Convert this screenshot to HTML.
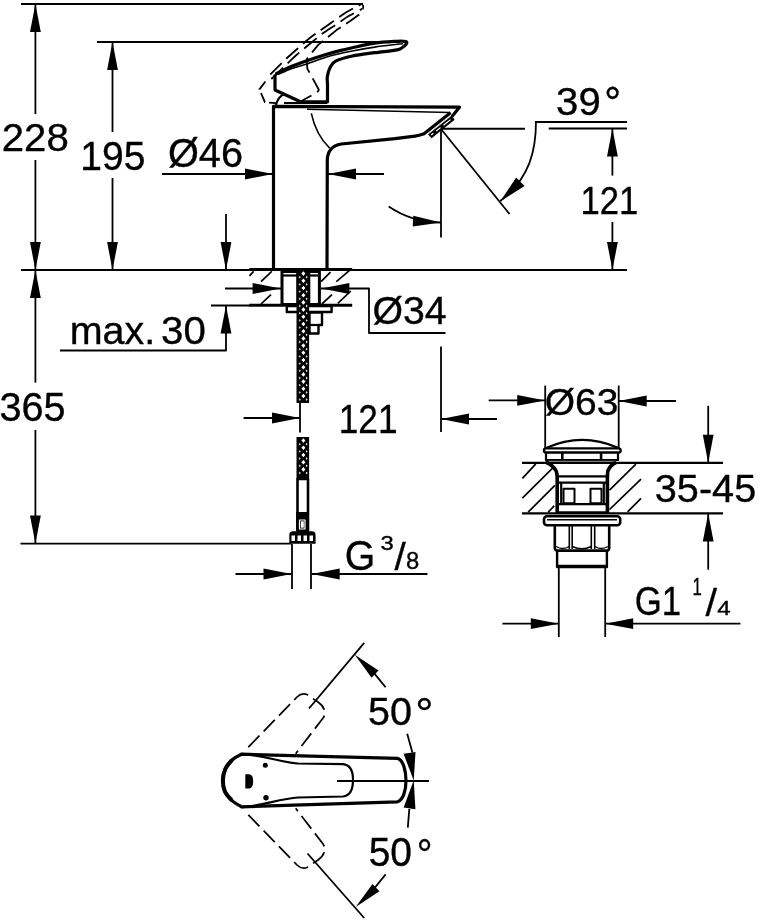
<!DOCTYPE html>
<html><head><meta charset="utf-8"><style>
html,body{margin:0;padding:0;background:#fff;width:760px;height:920px;overflow:hidden}
svg{display:block}
text{font-family:"Liberation Sans",sans-serif;fill:#000;stroke:#000;stroke-width:0.35px}
svg{filter:grayscale(1)}
</style></head><body>
<svg width="760" height="920" viewBox="0 0 760 920" stroke="#000" fill="none" stroke-linecap="butt" stroke-linejoin="round">
<line x1="21" y1="4" x2="363" y2="4" stroke-width="1.8" />
<line x1="97" y1="42" x2="400" y2="42" stroke-width="1.8" />
<line x1="21" y1="270" x2="627" y2="270" stroke-width="1.8" />
<line x1="35.4" y1="4" x2="35.4" y2="114" stroke-width="1.8" />
<line x1="35.4" y1="160" x2="35.4" y2="270" stroke-width="1.8" />
<polygon points="35.40,4.00 40.80,32.00 30.00,32.00" fill="#000" stroke="none"/>
<polygon points="35.40,270.00 30.00,242.00 40.80,242.00" fill="#000" stroke="none"/>
<line x1="112.5" y1="42" x2="112.5" y2="132" stroke-width="1.8" />
<line x1="112.5" y1="178" x2="112.5" y2="270" stroke-width="1.8" />
<polygon points="112.50,42.00 117.90,70.00 107.10,70.00" fill="#000" stroke="none"/>
<polygon points="112.50,270.00 107.10,242.00 117.90,242.00" fill="#000" stroke="none"/>
<line x1="162" y1="174" x2="273" y2="174" stroke-width="1.8" />
<polygon points="273.00,174.00 245.00,179.40 245.00,168.60" fill="#000" stroke="none"/>
<line x1="328" y1="174" x2="384" y2="174" stroke-width="1.8" />
<polygon points="328.00,174.00 356.00,168.60 356.00,179.40" fill="#000" stroke="none"/>
<line x1="226" y1="214" x2="226" y2="270" stroke-width="1.8" />
<polygon points="226.00,270.00 220.60,242.00 231.40,242.00" fill="#000" stroke="none"/>
<polyline points="60,350.5 226,350.5 226,305.5" stroke-width="1.8" fill="none" />
<polygon points="226.00,305.50 231.40,333.50 220.60,333.50" fill="#000" stroke="none"/>
<line x1="211" y1="305.5" x2="250" y2="305.5" stroke-width="1.8" />
<line x1="225" y1="288.5" x2="281" y2="288.5" stroke-width="1.8" />
<polygon points="280.60,288.50 252.60,293.90 252.60,283.10" fill="#000" stroke="none"/>
<polyline points="321,288.5 369,288.5 369,333 445.5,333" stroke-width="1.8" fill="none" />
<polygon points="321.40,288.50 349.40,283.10 349.40,293.90" fill="#000" stroke="none"/>
<line x1="35.4" y1="270" x2="35.4" y2="382.6" stroke-width="1.8" />
<line x1="35.4" y1="430" x2="35.4" y2="543.6" stroke-width="1.8" />
<polygon points="35.40,270.00 40.80,298.00 30.00,298.00" fill="#000" stroke="none"/>
<polygon points="35.40,543.60 30.00,515.60 40.80,515.60" fill="#000" stroke="none"/>
<line x1="20.5" y1="543.6" x2="291" y2="543.6" stroke-width="1.8" />
<line x1="243.6" y1="418" x2="300" y2="418" stroke-width="1.8" />
<polygon points="300.00,418.00 272.00,423.40 272.00,412.60" fill="#000" stroke="none"/>
<line x1="300" y1="403" x2="300" y2="432.6" stroke-width="1.8" />
<line x1="441" y1="346.5" x2="441" y2="432" stroke-width="1.8" />
<line x1="441" y1="419" x2="497" y2="419" stroke-width="1.8" />
<polygon points="441.00,419.00 469.00,413.60 469.00,424.40" fill="#000" stroke="none"/>
<line x1="441" y1="128.75" x2="525" y2="128.75" stroke-width="1.8" />
<line x1="548.7" y1="128.5" x2="627" y2="128.5" stroke-width="1.8" />
<line x1="535" y1="122" x2="627" y2="122" stroke-width="1.8" />
<line x1="441" y1="129" x2="441" y2="237.5" stroke-width="1.8" />
<line x1="441" y1="129" x2="509.5" y2="214" stroke-width="1.8" />
<line x1="612.4" y1="128.5" x2="612.4" y2="175.6" stroke-width="1.8" />
<line x1="612.4" y1="222" x2="612.4" y2="270" stroke-width="1.8" />
<polygon points="612.40,128.50 617.80,156.50 607.00,156.50" fill="#000" stroke="none"/>
<polygon points="612.40,270.00 607.00,242.00 617.80,242.00" fill="#000" stroke="none"/>
<path d="M536,121.5 C536,150 530,178 500.2,201" stroke-width="1.8" fill="none" />
<polygon points="500.26,201.32 516.16,177.50 524.52,186.10" fill="#000" stroke="none"/>
<path d="M388.67,206.49 A93.5,93.5 0 0 0 441.00,222.50" stroke-width="1.8" fill="none" />
<polygon points="441.00,222.50 412.77,226.50 413.30,215.71" fill="#000" stroke="none"/>
<path d="M273.5,270 L273.5,106.3 L459.5,107.2 L452,116.5" stroke-width="3.2" fill="none" />
<path d="M307,109.2 L450.5,112.5" stroke-width="1.6" fill="none" />
<path d="M450.5,112.8 L424,133.8 Q419,135.5 415,136.1 L395,138.7 L341.3,144 C333,145.5 327.5,150 327.3,160 L327,270" stroke-width="3.2" fill="none" />
<path d="M311.3,113.4 Q316,135 329.7,148.2" stroke-width="1.6" fill="none" />
<polygon points="451.5,115.2 454.6,119.8 431.6,138.2 427.6,134" fill="#000" stroke="none"/>
<line x1="450.6" y1="116.2" x2="427.8" y2="134.2" stroke-width="0.9" stroke="#fff"/>
<line x1="450.6" y1="119.6" x2="443.5" y2="125.2" stroke-width="1.2" stroke="#fff"/>
<line x1="440.5" y1="127.6" x2="436.2" y2="131" stroke-width="1.2" stroke="#fff"/>
<line x1="433.4" y1="133.2" x2="431.2" y2="135" stroke-width="1.2" stroke="#fff"/>
<path d="M275.50,74.10 C277.65,73.02 283.18,69.83 288.40,67.60 C293.62,65.37 300.67,62.85 306.80,60.70 C312.93,58.55 319.67,56.38 325.20,54.70 C330.73,53.02 335.47,51.77 340.00,50.60 C344.53,49.43 346.62,48.93 352.40,47.70 C358.18,46.47 367.25,44.27 374.70,43.20 C382.15,42.13 392.22,41.62 397.10,41.30 C401.98,40.98 402.85,41.30 404.00,41.30 Q408,41.3 406.5,43.5 Q405.5,45.5 403.8,46.5" stroke-width="3.2" fill="none"/>
<path d="M403.80,46.50 C402.68,47.07 401.95,48.87 397.10,49.90 C392.25,50.93 382.15,51.68 374.70,52.70 C367.25,53.72 358.92,54.60 352.40,56.00 C345.88,57.40 339.33,59.13 335.60,61.10 C331.87,63.07 331.38,65.18 330.00,67.80 C328.62,70.42 327.72,74.10 327.30,76.80 C326.88,79.50 327.47,82.80 327.50,84.00 L327.5,101.8 L300.5,101.8 L275,90 L275,74.5" stroke-width="3.2" fill="none"/>
<path d="M278.00,74.50 C280.33,73.50 287.20,70.25 292.00,68.50 C296.80,66.75 300.47,66.08 306.80,64.00 C313.13,61.92 322.40,58.17 330.00,56.00 C337.60,53.83 344.95,52.48 352.40,51.00 C359.85,49.52 367.25,48.22 374.70,47.10 C382.15,45.98 392.38,44.87 397.10,44.30 C401.82,43.73 402.02,43.80 403.00,43.70" stroke-width="1.6" fill="none" />
<path d="M276,105 Q278,97 284,94" stroke-width="2" fill="none" />
<line x1="284" y1="103" x2="327" y2="103" stroke-width="2" />
<path d="M270.30,74.60 C272.43,72.45 278.82,65.80 283.10,61.70 C287.38,57.60 291.55,53.95 296.00,50.00 C300.45,46.05 305.03,41.73 309.80,38.00 C314.57,34.27 318.52,31.88 324.60,27.60 C330.68,23.32 339.90,16.32 346.30,12.30 C352.70,8.28 360.22,4.97 363.00,3.50" stroke-width="1.8" fill="none" stroke-dasharray="16,6.5"/>
<path d="M271.30,79.00 C273.68,76.70 281.32,69.28 285.60,65.20 C289.88,61.12 292.88,58.12 297.00,54.50 C301.12,50.88 305.80,47.17 310.30,43.50 C314.80,39.83 319.48,35.80 324.00,32.50 C328.52,29.20 333.35,26.40 337.40,23.70 C341.45,21.00 344.18,18.77 348.30,16.30 C352.42,13.83 359.80,10.13 362.10,8.90" stroke-width="1.8" fill="none" stroke-dasharray="16,6.5"/>
<path d="M297.4,103.2 L312.8,94.8 Q320,91 318.5,89 L307.3,68.6 L306.8,59 L318.2,44.9 L336.5,30.1 L349.8,21.2 L360.2,13.8 Q364,10 363,5" stroke-width="1.8" fill="none" stroke-dasharray="16,6.5"/>
<path d="M265.4,81.5 L259.4,89.4 L264.9,102.2 L276,103.2" stroke-width="1.8" fill="none" stroke-dasharray="10,4"/>
<line x1="249.3" y1="269.6" x2="352.2" y2="269.6" stroke-width="3" />
<line x1="249.3" y1="305.3" x2="352.2" y2="305.3" stroke-width="3" />
<line x1="249.5" y1="275.8" x2="253.6" y2="271.4" stroke-width="1.7" />
<line x1="261" y1="281.6" x2="271.8" y2="271.4" stroke-width="1.7" />
<line x1="261" y1="304" x2="271" y2="294.6" stroke-width="1.7" />
<line x1="321" y1="281.6" x2="330.5" y2="272.1" stroke-width="1.7" />
<line x1="336.3" y1="281.6" x2="349.3" y2="270.7" stroke-width="1.7" />
<line x1="321.8" y1="304" x2="332" y2="294.6" stroke-width="1.7" />
<line x1="337.8" y1="303.3" x2="350.8" y2="291" stroke-width="1.7" />
<rect x="282" y="271.5" width="15.9" height="33" stroke-width="3" fill="#fff"/>
<rect x="308.8" y="271.5" width="10.6" height="33" stroke-width="3" fill="#fff"/>
<line x1="282" y1="275.5" x2="297.9" y2="275.5" stroke-width="2.2" />
<line x1="308.8" y1="275.5" x2="319.4" y2="275.5" stroke-width="2.2" />
<rect x="286.8" y="306" width="44.8" height="6" stroke-width="2.4" fill="#fff"/>
<polygon points="309.5,312.5 322,312.5 322,325 318.5,325 318.5,333.5 309.5,333.5" stroke-width="2.4" fill="#fff" />
<line x1="309.5" y1="325" x2="318.5" y2="325" stroke-width="2.2" />
<rect x="296.5" y="270" width="12.6" height="133" fill="#000" stroke="none"/>
<path d="M303.4,271.3 L305.4,273.6 L303.4,275.9 L301.4,273.6 Z" fill="#fff" stroke="none"/>
<path d="M299.6,275.8 L300.9,277.2 L299.6,278.6 L298.6,277.2 Z" fill="#bbb" stroke="none"/>
<path d="M306.6,275.8 L307.6,277.2 L306.6,278.6 L305.6,277.2 Z" fill="#ddd" stroke="none"/>
<path d="M303.4,278.5 L305.4,280.8 L303.4,283.1 L301.4,280.8 Z" fill="#fff" stroke="none"/>
<path d="M299.6,283.0 L300.9,284.4 L299.6,285.8 L298.6,284.4 Z" fill="#bbb" stroke="none"/>
<path d="M306.6,283.0 L307.6,284.4 L306.6,285.8 L305.6,284.4 Z" fill="#ddd" stroke="none"/>
<path d="M303.4,285.7 L305.4,288.0 L303.4,290.3 L301.4,288.0 Z" fill="#fff" stroke="none"/>
<path d="M299.6,290.2 L300.9,291.6 L299.6,293.0 L298.6,291.6 Z" fill="#bbb" stroke="none"/>
<path d="M306.6,290.2 L307.6,291.6 L306.6,293.0 L305.6,291.6 Z" fill="#ddd" stroke="none"/>
<path d="M303.4,292.9 L305.4,295.2 L303.4,297.5 L301.4,295.2 Z" fill="#fff" stroke="none"/>
<path d="M299.6,297.4 L300.9,298.8 L299.6,300.2 L298.6,298.8 Z" fill="#bbb" stroke="none"/>
<path d="M306.6,297.4 L307.6,298.8 L306.6,300.2 L305.6,298.8 Z" fill="#ddd" stroke="none"/>
<path d="M303.4,300.1 L305.4,302.4 L303.4,304.7 L301.4,302.4 Z" fill="#fff" stroke="none"/>
<path d="M299.6,304.6 L300.9,306.0 L299.6,307.4 L298.6,306.0 Z" fill="#bbb" stroke="none"/>
<path d="M306.6,304.6 L307.6,306.0 L306.6,307.4 L305.6,306.0 Z" fill="#ddd" stroke="none"/>
<path d="M303.4,307.3 L305.4,309.6 L303.4,311.9 L301.4,309.6 Z" fill="#fff" stroke="none"/>
<path d="M299.6,311.8 L300.9,313.2 L299.6,314.6 L298.6,313.2 Z" fill="#bbb" stroke="none"/>
<path d="M306.6,311.8 L307.6,313.2 L306.6,314.6 L305.6,313.2 Z" fill="#ddd" stroke="none"/>
<path d="M303.4,314.5 L305.4,316.8 L303.4,319.1 L301.4,316.8 Z" fill="#fff" stroke="none"/>
<path d="M299.6,319.0 L300.9,320.4 L299.6,321.8 L298.6,320.4 Z" fill="#bbb" stroke="none"/>
<path d="M306.6,319.0 L307.6,320.4 L306.6,321.8 L305.6,320.4 Z" fill="#ddd" stroke="none"/>
<path d="M303.4,321.7 L305.4,324.0 L303.4,326.3 L301.4,324.0 Z" fill="#fff" stroke="none"/>
<path d="M299.6,326.2 L300.9,327.6 L299.6,329.0 L298.6,327.6 Z" fill="#bbb" stroke="none"/>
<path d="M306.6,326.2 L307.6,327.6 L306.6,329.0 L305.6,327.6 Z" fill="#ddd" stroke="none"/>
<path d="M303.4,328.9 L305.4,331.2 L303.4,333.5 L301.4,331.2 Z" fill="#fff" stroke="none"/>
<path d="M299.6,333.4 L300.9,334.8 L299.6,336.2 L298.6,334.8 Z" fill="#bbb" stroke="none"/>
<path d="M306.6,333.4 L307.6,334.8 L306.6,336.2 L305.6,334.8 Z" fill="#ddd" stroke="none"/>
<path d="M303.4,336.1 L305.4,338.4 L303.4,340.7 L301.4,338.4 Z" fill="#fff" stroke="none"/>
<path d="M299.6,340.6 L300.9,342.0 L299.6,343.4 L298.6,342.0 Z" fill="#bbb" stroke="none"/>
<path d="M306.6,340.6 L307.6,342.0 L306.6,343.4 L305.6,342.0 Z" fill="#ddd" stroke="none"/>
<path d="M303.4,343.3 L305.4,345.6 L303.4,347.9 L301.4,345.6 Z" fill="#fff" stroke="none"/>
<path d="M299.6,347.8 L300.9,349.2 L299.6,350.6 L298.6,349.2 Z" fill="#bbb" stroke="none"/>
<path d="M306.6,347.8 L307.6,349.2 L306.6,350.6 L305.6,349.2 Z" fill="#ddd" stroke="none"/>
<path d="M303.4,350.5 L305.4,352.8 L303.4,355.1 L301.4,352.8 Z" fill="#fff" stroke="none"/>
<path d="M299.6,355.0 L300.9,356.4 L299.6,357.8 L298.6,356.4 Z" fill="#bbb" stroke="none"/>
<path d="M306.6,355.0 L307.6,356.4 L306.6,357.8 L305.6,356.4 Z" fill="#ddd" stroke="none"/>
<path d="M303.4,357.7 L305.4,360.0 L303.4,362.3 L301.4,360.0 Z" fill="#fff" stroke="none"/>
<path d="M299.6,362.2 L300.9,363.6 L299.6,365.0 L298.6,363.6 Z" fill="#bbb" stroke="none"/>
<path d="M306.6,362.2 L307.6,363.6 L306.6,365.0 L305.6,363.6 Z" fill="#ddd" stroke="none"/>
<path d="M303.4,364.9 L305.4,367.2 L303.4,369.5 L301.4,367.2 Z" fill="#fff" stroke="none"/>
<path d="M299.6,369.4 L300.9,370.8 L299.6,372.2 L298.6,370.8 Z" fill="#bbb" stroke="none"/>
<path d="M306.6,369.4 L307.6,370.8 L306.6,372.2 L305.6,370.8 Z" fill="#ddd" stroke="none"/>
<path d="M303.4,372.1 L305.4,374.4 L303.4,376.7 L301.4,374.4 Z" fill="#fff" stroke="none"/>
<path d="M299.6,376.6 L300.9,378.0 L299.6,379.4 L298.6,378.0 Z" fill="#bbb" stroke="none"/>
<path d="M306.6,376.6 L307.6,378.0 L306.6,379.4 L305.6,378.0 Z" fill="#ddd" stroke="none"/>
<path d="M303.4,379.3 L305.4,381.6 L303.4,383.9 L301.4,381.6 Z" fill="#fff" stroke="none"/>
<path d="M299.6,383.8 L300.9,385.2 L299.6,386.6 L298.6,385.2 Z" fill="#bbb" stroke="none"/>
<path d="M306.6,383.8 L307.6,385.2 L306.6,386.6 L305.6,385.2 Z" fill="#ddd" stroke="none"/>
<path d="M303.4,386.5 L305.4,388.8 L303.4,391.1 L301.4,388.8 Z" fill="#fff" stroke="none"/>
<path d="M299.6,391.0 L300.9,392.4 L299.6,393.8 L298.6,392.4 Z" fill="#bbb" stroke="none"/>
<path d="M306.6,391.0 L307.6,392.4 L306.6,393.8 L305.6,392.4 Z" fill="#ddd" stroke="none"/>
<path d="M303.4,393.7 L305.4,396.0 L303.4,398.3 L301.4,396.0 Z" fill="#fff" stroke="none"/>
<path d="M299.6,398.2 L300.9,399.6 L299.6,401.0 L298.6,399.6 Z" fill="#bbb" stroke="none"/>
<path d="M306.6,398.2 L307.6,399.6 L306.6,401.0 L305.6,399.6 Z" fill="#ddd" stroke="none"/>
<rect x="296.5" y="437" width="12.6" height="42" fill="#000" stroke="none"/>
<path d="M303.4,438.3 L305.4,440.6 L303.4,442.9 L301.4,440.6 Z" fill="#fff" stroke="none"/>
<path d="M299.6,442.8 L300.9,444.2 L299.6,445.6 L298.6,444.2 Z" fill="#bbb" stroke="none"/>
<path d="M306.6,442.8 L307.6,444.2 L306.6,445.6 L305.6,444.2 Z" fill="#ddd" stroke="none"/>
<path d="M303.4,445.5 L305.4,447.8 L303.4,450.1 L301.4,447.8 Z" fill="#fff" stroke="none"/>
<path d="M299.6,450.0 L300.9,451.4 L299.6,452.8 L298.6,451.4 Z" fill="#bbb" stroke="none"/>
<path d="M306.6,450.0 L307.6,451.4 L306.6,452.8 L305.6,451.4 Z" fill="#ddd" stroke="none"/>
<path d="M303.4,452.7 L305.4,455.0 L303.4,457.3 L301.4,455.0 Z" fill="#fff" stroke="none"/>
<path d="M299.6,457.2 L300.9,458.6 L299.6,460.0 L298.6,458.6 Z" fill="#bbb" stroke="none"/>
<path d="M306.6,457.2 L307.6,458.6 L306.6,460.0 L305.6,458.6 Z" fill="#ddd" stroke="none"/>
<path d="M303.4,459.9 L305.4,462.2 L303.4,464.5 L301.4,462.2 Z" fill="#fff" stroke="none"/>
<path d="M299.6,464.4 L300.9,465.8 L299.6,467.2 L298.6,465.8 Z" fill="#bbb" stroke="none"/>
<path d="M306.6,464.4 L307.6,465.8 L306.6,467.2 L305.6,465.8 Z" fill="#ddd" stroke="none"/>
<path d="M303.4,467.1 L305.4,469.4 L303.4,471.7 L301.4,469.4 Z" fill="#fff" stroke="none"/>
<path d="M299.6,471.6 L300.9,473.0 L299.6,474.4 L298.6,473.0 Z" fill="#bbb" stroke="none"/>
<path d="M306.6,471.6 L307.6,473.0 L306.6,474.4 L305.6,473.0 Z" fill="#ddd" stroke="none"/>
<rect x="297.5" y="479" width="10.5" height="52" stroke-width="2.6" fill="#fff"/>
<rect x="296" y="512" width="13" height="19" fill="#000" stroke="none"/>
<rect x="299.5" y="520" width="5.5" height="9" stroke-width="1.2" stroke="#fff" fill="#000"/>
<rect x="300.8" y="521.3" width="3" height="6.4" fill="#fff" stroke="none"/>
<path d="M289.3,543.7 L289.3,535 Q289.3,531.3 293,531.3 L312,531.3 Q315.6,531.3 315.6,535 L315.6,543.7 Z" stroke-width="0" fill="#000" />
<rect x="291.5" y="535.5" width="3.5" height="5.5" fill="#fff" stroke="none"/>
<rect x="297.5" y="535.5" width="3.5" height="5.5" fill="#fff" stroke="none"/>
<rect x="303.5" y="535.5" width="3.5" height="5.5" fill="#fff" stroke="none"/>
<rect x="309.5" y="535.5" width="3.5" height="5.5" fill="#fff" stroke="none"/>
<line x1="292" y1="544" x2="292" y2="589" stroke-width="1.8" />
<line x1="311" y1="544" x2="311" y2="589" stroke-width="1.8" />
<line x1="235.5" y1="574" x2="291.5" y2="574" stroke-width="1.8" />
<line x1="311.7" y1="574" x2="427.5" y2="574" stroke-width="1.8" />
<polygon points="291.50,574.00 263.50,579.40 263.50,568.60" fill="#000" stroke="none"/>
<polygon points="311.70,574.00 339.70,568.60 339.70,579.40" fill="#000" stroke="none"/>
<line x1="545.2" y1="385.6" x2="545.2" y2="448" stroke-width="1.8" />
<line x1="618.7" y1="385.6" x2="618.7" y2="448" stroke-width="1.8" />
<line x1="488.7" y1="400.4" x2="545.2" y2="400.4" stroke-width="1.8" />
<polygon points="545.20,400.40 517.20,405.80 517.20,395.00" fill="#000" stroke="none"/>
<line x1="618.7" y1="401" x2="676" y2="401" stroke-width="1.8" />
<polygon points="618.70,401.00 646.70,395.60 646.70,406.40" fill="#000" stroke="none"/>
<line x1="522" y1="462.8" x2="723" y2="462.8" stroke-width="2.2" />
<line x1="522" y1="513.4" x2="723" y2="513.4" stroke-width="2.2" />
<line x1="708.2" y1="405.8" x2="708.2" y2="462.8" stroke-width="1.8" />
<polygon points="708.20,462.80 702.80,434.80 713.60,434.80" fill="#000" stroke="none"/>
<line x1="708.2" y1="569.7" x2="708.2" y2="513.4" stroke-width="1.8" />
<polygon points="708.20,513.40 713.60,541.40 702.80,541.40" fill="#000" stroke="none"/>
<line x1="522.4" y1="478.3" x2="535.8" y2="463.8" stroke-width="1.7" />
<line x1="522.4" y1="498.1" x2="553.1" y2="467.7" stroke-width="1.7" />
<line x1="528.1" y1="512.2" x2="554.9" y2="485.4" stroke-width="1.7" />
<line x1="548.2" y1="512.2" x2="554.2" y2="505.8" stroke-width="1.7" />
<line x1="609.5" y1="490.1" x2="635.9" y2="464.1" stroke-width="1.7" />
<line x1="609.5" y1="509.5" x2="641" y2="479.1" stroke-width="1.7" />
<line x1="627.6" y1="511.8" x2="641" y2="498.4" stroke-width="1.7" />
<path d="M546.7,447.8 Q582,432 617.9,447.8" stroke-width="2.2" fill="none" />
<rect x="544" y="448.4" width="76.6" height="4.2" rx="2.1" stroke-width="2.4" fill="#fff"/>
<rect x="546" y="452.6" width="72" height="7.4" stroke-width="2.2" fill="#fff"/>
<line x1="562.3" y1="452.6" x2="562.3" y2="460" stroke-width="2.6" />
<line x1="601.1" y1="452.6" x2="601.1" y2="460" stroke-width="2.6" />
<line x1="548" y1="461.4" x2="616" y2="461.4" stroke-width="1.2" stroke="#777"/>
<path d="M545.4,462 Q553.1,465 556.2,471 Q557.2,474 557.2,478 L557.2,513" stroke-width="3.6" fill="none" />
<path d="M616,462.5 Q610.3,465 607.8,471 Q607.4,474 607.4,478 L607.4,513" stroke-width="3.6" fill="none" />
<line x1="557" y1="476.4" x2="608" y2="476.4" stroke-width="2.4" />
<line x1="557" y1="482.6" x2="608" y2="482.6" stroke-width="2.4" />
<line x1="557" y1="504.1" x2="608" y2="504.1" stroke-width="2.4" />
<line x1="557" y1="512.6" x2="608" y2="512.6" stroke-width="2.6" />
<line x1="561.2" y1="482.6" x2="561.2" y2="504.1" stroke-width="2.2" />
<line x1="603.8" y1="482.6" x2="603.8" y2="504.1" stroke-width="2.2" />
<rect x="563.5" y="488.8" width="11" height="14.5" stroke-width="2" fill="#fff"/>
<rect x="590.5" y="488.8" width="11" height="14.5" stroke-width="2" fill="#fff"/>
<rect x="544" y="516.2" width="76.2" height="9" rx="3" stroke-width="2.6" fill="#fff"/>
<line x1="547" y1="519.8" x2="617" y2="519.8" stroke-width="1.6" />
<path d="M554.8,525.4 L554.8,548 Q555,550.8 558,550.8 L606.5,550.8 Q609.2,550.8 609.2,548 L609.2,525.4" stroke-width="2.6" fill="none" />
<line x1="569.3" y1="525.4" x2="569.3" y2="549" stroke-width="1.6" />
<line x1="572.2" y1="525.4" x2="572.2" y2="549" stroke-width="1.6" />
<line x1="591.3" y1="525.4" x2="591.3" y2="549" stroke-width="1.6" />
<line x1="594.7" y1="525.4" x2="594.7" y2="549" stroke-width="1.6" />
<path d="M556,546.5 Q563,550.5 569.3,546.5 M572.2,546.5 Q582,551 591.3,546.5 M594.7,546.5 Q601,550.5 608,546.5" stroke-width="1.4" fill="none" />
<rect x="557.1" y="550.8" width="49.8" height="16.3" stroke-width="2.4" fill="#fff"/>
<line x1="557.1" y1="566.2" x2="606.9" y2="566.2" stroke-width="3" />
<line x1="558.8" y1="567" x2="558.8" y2="637" stroke-width="1.8" />
<line x1="605.2" y1="567" x2="605.2" y2="637" stroke-width="1.8" />
<line x1="502.4" y1="623.7" x2="558.8" y2="623.7" stroke-width="1.8" />
<line x1="605.2" y1="623.7" x2="740.4" y2="623.7" stroke-width="1.8" />
<polygon points="558.80,623.70 530.80,629.10 530.80,618.30" fill="#000" stroke="none"/>
<polygon points="605.20,623.70 633.20,618.30 633.20,629.10" fill="#000" stroke="none"/>
<path d="M241.50,754.20 C239.92,755.17 234.67,757.62 232.00,760.00 C229.33,762.38 227.02,765.20 225.50,768.50 C223.98,771.80 223.00,775.97 222.90,779.80 C222.80,783.63 223.38,788.03 224.90,791.50 C226.42,794.97 229.23,798.05 232.00,800.60 C234.77,803.15 239.92,805.77 241.50,806.80 L397.5,801.8 C403,800 406,791 406,780.5 C406,770 403,760 397.5,758.3 Z" stroke-width="3.2" fill="none" />
<path d="M232.00,760.00 C230.92,761.42 227.02,765.20 225.50,768.50 C223.98,771.80 223.00,775.97 222.90,779.80 C222.80,783.63 223.38,788.03 224.90,791.50 C226.42,794.97 230.82,799.08 232.00,800.60" stroke-width="4" fill="none" />
<path d="M241.6,753.8 C262,755 280,762 298,763.5 L343,764.2 Q353,765 353,780 Q353,795.5 343,796.5 L298,797.5 C280,798.5 262,806 241.6,807.2" stroke-width="2.2" fill="none" />
<circle cx="265.3" cy="765.3" r="2.5" fill="#000" stroke="none"/>
<circle cx="266" cy="797.7" r="2.7" fill="#000" stroke="none"/>
<path d="M245.3,774.2 L249.5,774.2 Q253.2,775 253.2,781 Q253.2,788 249.5,788.4 L245.3,788.4 Z" stroke-width="0" fill="#000" />
<line x1="337" y1="781" x2="429" y2="781" stroke-width="1.8" />
<line x1="309" y1="708.5" x2="364.2" y2="642.8" stroke-width="1.8" />
<line x1="307.5" y1="853.5" x2="364.2" y2="918" stroke-width="1.8" />
<path d="M248.3,747.2 L297,697 Q301.6,692.5 307,694.5 L318,702 Q325,707 324.7,713.4 Q324.5,716 322.9,718.2 L295.7,753.7" stroke-width="1.7" fill="none" stroke-dasharray="16,6"/>
<path d="M248.3,814.8 L297,865 Q301.6,869.5 307,867.5 L318,860 Q325,855 324.7,848.6 Q324.5,846 322.9,843.8 L295.7,808.3" stroke-width="1.7" fill="none" stroke-dasharray="16,6"/>
<line x1="385.6" y1="687.3" x2="374.5" y2="673.6" stroke-width="1.8" />
<polygon points="354.80,654.80 378.51,670.51 371.60,677.75" fill="#000" stroke="none"/>
<line x1="407.2" y1="733.7" x2="412.4" y2="752.6" stroke-width="1.8" />
<polygon points="413.70,780.60 403.61,753.80 415.48,752.02" fill="#000" stroke="none"/>
<line x1="407.8" y1="827.6" x2="409.3" y2="809" stroke-width="1.8" />
<polygon points="413.70,780.60 415.48,809.18 403.61,807.40" fill="#000" stroke="none"/>
<line x1="385.6" y1="874.4" x2="373" y2="890" stroke-width="1.8" />
<polygon points="355.70,906.90 372.50,883.95 379.41,891.19" fill="#000" stroke="none"/>
<text transform="translate(1.69,150.91) scale(1.0228,1)" font-size="39.30">228</text>
<text transform="translate(80.27,169.90) scale(0.9740,1)" font-size="40.14">195</text>
<text transform="translate(167.91,167.40) scale(0.9966,1)" font-size="39.86">Ø46</text>
<text transform="translate(556.10,115.10) scale(1.0096,1)" font-size="39.72">39</text>
<text transform="translate(604.37,117.80) scale(0.9672,1)" font-size="43.57">°</text>
<text transform="translate(580.53,213.60) scale(0.8794,1)" font-size="39.43">121</text>
<text transform="translate(69.74,344.11) scale(1.0149,1)" font-size="38.87">max.</text>
<text transform="translate(161.09,344.11) scale(1.0340,1)" font-size="38.87">30</text>
<text transform="translate(372.43,324.11) scale(1.0106,1)" font-size="38.87">Ø34</text>
<text transform="translate(-0.54,421.20) scale(0.9929,1)" font-size="40.00">365</text>
<text transform="translate(338.78,432.60) scale(0.8830,1)" font-size="39.86">121</text>
<text transform="translate(544.69,415.22) scale(1.0322,1)" font-size="37.82">Ø63</text>
<text transform="translate(654.81,501.72) scale(1.0319,1)" font-size="38.45">35-45</text>
<text transform="translate(344.64,569.58) scale(0.9285,1)" font-size="42.25">G</text>
<text transform="translate(380.55,550.49) scale(1.1510,1)" font-size="20.70">3</text>
<text transform="translate(394.50,569.70) scale(1.0373,1)" font-size="38.90">/</text>
<text transform="translate(406.05,569.47) scale(1.0192,1)" font-size="23.38">8</text>
<text transform="translate(634.76,615.20) scale(0.8730,1)" font-size="39.86">G1</text>
<text transform="translate(692.46,595.30) scale(0.6918,1)" font-size="24.20">1</text>
<text transform="translate(705.40,615.60) scale(1.0429,1)" font-size="39.73">/</text>
<text transform="translate(717.22,615.10) scale(1.1799,1)" font-size="20.44">4</text>
<text transform="translate(368.12,724.61) scale(1.0239,1)" font-size="38.59">50</text>
<text transform="translate(415.36,728.40) scale(1.0667,1)" font-size="42.86">°</text>
<text transform="translate(368.64,865.50) scale(0.9792,1)" font-size="39.86">50</text>
<text transform="translate(416.64,868.50) scale(0.9167,1)" font-size="42.86">°</text>
</svg></body></html>
